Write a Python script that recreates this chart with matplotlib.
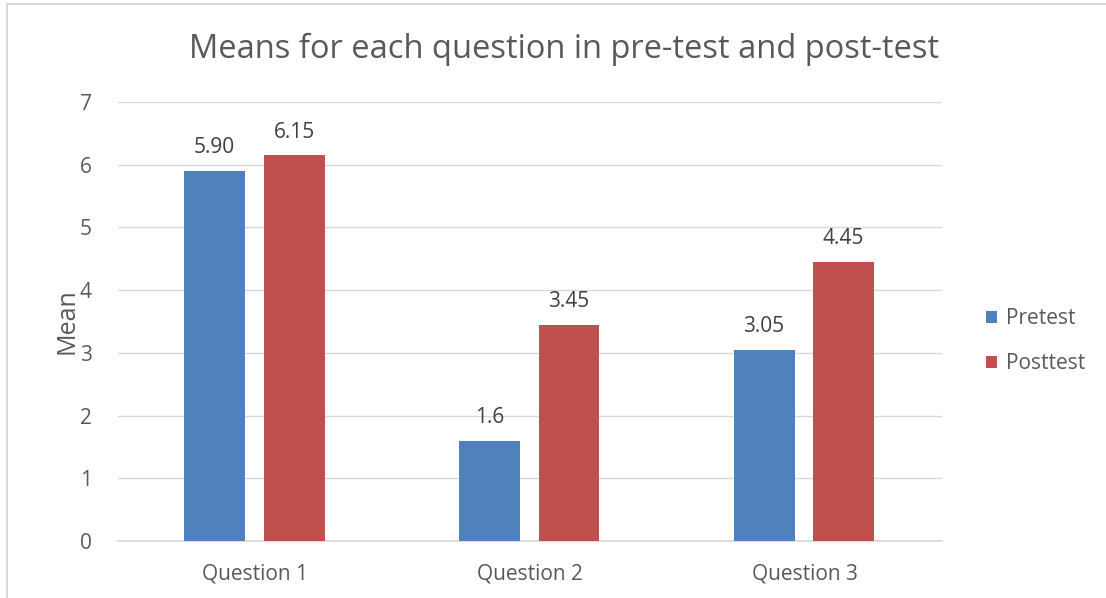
import matplotlib
matplotlib.use("Agg")
import matplotlib.pyplot as plt
from matplotlib.patches import Rectangle
import numpy as np

categories = ["Question 1", "Question 2", "Question 3"]
pretest = [5.90, 1.6, 3.05]
posttest = [6.15, 3.45, 4.45]
pre_labels = ["5.90", "1.6", "3.05"]
post_labels = ["6.15", "3.45", "4.45"]
yticks = [0, 1, 2, 3, 4, 5, 6, 7]

plt.rcParams['font.family'] = ['Open Sans', 'DejaVu Sans']

fig = plt.figure(figsize=(11.06, 5.98), dpi=100)
W, H = 1106, 598
ax = fig.add_axes([118 / W, 1 - 541 / H, (942 - 118) / W, (541 - 102) / H])

# outer border
fig.add_artist(Rectangle((7 / W, -0.1), 1.2, 1 - 3.5 / H + 0.1, transform=fig.transFigure,
                         fill=False, edgecolor='#D9D9D9', linewidth=1.5))

x = np.arange(len(categories))
bw = 0.222
off = 0.145
blue = '#4F81BD'
red = '#C0504D'
b1 = ax.bar(x - off - 0.003, pretest, bw, color=blue, label='Pretest', zorder=3)
b2 = ax.bar(x + off - 0.003, posttest, bw, color=red, label='Posttest', zorder=3)

for rects, labs in ((b1, pre_labels), (b2, post_labels)):
    for r, l in zip(rects, labs):
        ax.annotate(l, (r.get_x() + r.get_width() / 2, r.get_height()),
                    xytext=(0, 9), textcoords='offset points', ha='center', va='bottom',
                    fontsize=15, color='#404040')

ax.set_xlim(-0.5, 2.5)
ax.set_ylim(0, 7)
ax.set_yticks(yticks)
ax.set_xticks(x)
ax.set_xticklabels(categories)
ax.grid(axis='y', color='#D9D9D9', linewidth=1, zorder=0)
for s in ['top', 'right', 'left']:
    ax.spines[s].set_visible(False)
ax.spines['bottom'].set_color('#D9D9D9')
ax.spines['bottom'].set_linewidth(1.2)
ax.tick_params(axis='both', length=0, labelsize=15, colors='#595959')
ax.tick_params(axis='y', pad=19)
ax.tick_params(axis='x', pad=16)
ax.set_ylabel('Mean', fontsize=18, color='#595959', labelpad=0)

fig.text(564 / W, 1 - 49 / H, 'Means for each question in pre-test and post-test',
         ha='center', va='center', fontsize=23.5, color='#595959')

leg = ax.legend(loc='center left', bbox_to_anchor=(1.043, 0.455), frameon=False,
                fontsize=15, handlelength=0.55, handleheight=0.55, labelspacing=1.15,
                handletextpad=0.4, borderaxespad=0)
for t in leg.get_texts():
    t.set_color('#595959')

fig.savefig('out.png', dpi=100)
